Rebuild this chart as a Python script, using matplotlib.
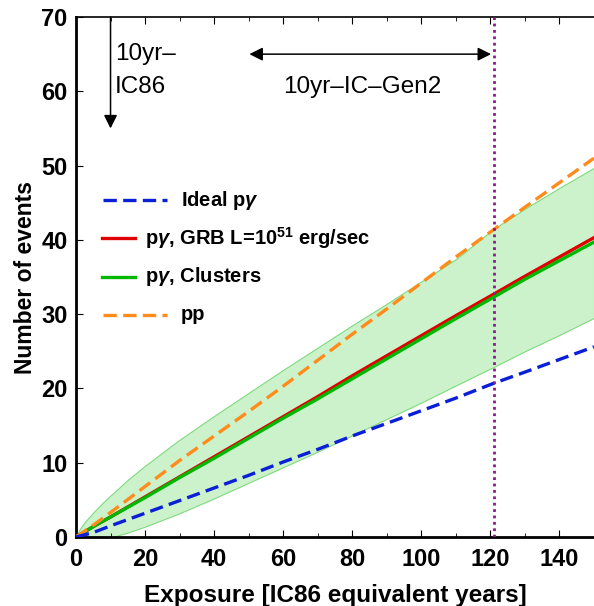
import matplotlib

matplotlib.use("Agg")
import matplotlib.pyplot as plt
from matplotlib.ticker import MultipleLocator


# values
exposure = [0, 5, 10, 20, 30, 40, 50, 60, 70, 80, 90, 100, 110, 121, 130, 140, 150]
grb_events = [0, 1.4, 2.7, 5.4, 8.1, 10.8, 13.5, 16.2, 18.9, 21.7, 24.4, 27.1, 29.8, 32.7, 35.1, 37.7, 40.3]
cluster_events = [0, 1.4, 2.7, 5.3, 8.0, 10.6, 13.3, 16.0, 18.6, 21.3, 24.0, 26.7, 29.4, 32.3, 34.7, 37.2, 39.7]
pp_events = [0, 1.6, 3.3, 6.8, 10.3, 13.6, 16.9, 20.3, 23.8, 27.3, 30.7, 34.2, 37.7, 41.4, 44.4, 47.7, 51.0]
ideal_events = [0, 0.6, 1.5, 3.2, 4.9, 6.6, 8.3, 10.1, 11.8, 13.6, 15.3, 17.0, 18.7, 20.7, 22.2, 23.9, 25.6]

band_x = [0, 1, 2.5, 5, 7.5, 10, 11, 15, 20, 30, 40, 50, 60, 70, 80, 90, 100, 110, 121, 130, 140, 150]
band_upper = [0, 1.0, 2.0, 3.3, 4.5, 5.6, 6.0, 7.7, 9.6, 13.1, 16.3, 19.4, 22.5, 25.5, 28.5, 31.4, 34.4, 37.4, 41.5, 44.2, 47.0, 49.7]
band_lower = [0, 0, 0, 0, 0, 0, 0.05, 0.6, 1.4, 3.2, 5.2, 7.3, 9.4, 11.5, 13.7, 15.9, 18.1, 20.4, 22.9, 25.0, 27.2, 29.5]

gen2_years = 121
ic86_years = 10

labels = [
    "Ideal p$\\gamma$",
    "p$\\gamma$, GRB L=10$^{\\mathbf{51}}$ erg/sec",
    "p$\\gamma$, Clusters",
    "pp",
]

BLUE = "#0A1FD6"
RED = "#E00000"
GREEN = "#00B800"
ORANGE = "#FF8C1A"
DASH = (0, (4, 1.9))

plt.rcParams["font.family"] = ["Liberation Sans", "DejaVu Sans"]
plt.rcParams["mathtext.fontset"] = "custom"
plt.rcParams["mathtext.rm"] = "Liberation Sans:bold"
plt.rcParams["mathtext.bf"] = "Liberation Sans:bold"
plt.rcParams["mathtext.it"] = "Liberation Sans:italic:bold"

fig = plt.figure(figsize=(5.94, 6.06), dpi=100)
ax = fig.add_axes([76 / 594, 69 / 606, 518 / 594, 520 / 606])

ax.fill_between(band_x, band_lower, band_upper, facecolor="#CCF2CC", edgecolor="#7FD97F", lw=0.8, zorder=1)
ax.plot(exposure, grb_events, color=RED, lw=2.4, zorder=3)
ax.plot(exposure, cluster_events, color=GREEN, lw=2.4, zorder=3.1)
ax.plot(exposure, pp_events, color=ORANGE, lw=2.4, ls=DASH, zorder=4)
ax.plot(exposure, ideal_events, color=BLUE, lw=2.4, ls=DASH, zorder=4)
ax.axvline(gen2_years, color="#8B1A8B", lw=2.0, ls=(0, (1, 1.3)), zorder=5)

# annotations
ax.annotate("", xy=(ic86_years, 55), xytext=(ic86_years, 70),
            arrowprops=dict(arrowstyle="-|>", color="black", lw=1.1, mutation_scale=20, shrinkA=0, shrinkB=0))
ax.text(11.3, 65, "10yr\u2013", fontsize=17.5, ha="left", va="center")
ax.text(11.3, 60.6, "IC86", fontsize=17.5, ha="left", va="center")
ax.annotate("", xy=(50.2, 65), xytext=(120.2, 65),
            arrowprops=dict(arrowstyle="<|-|>", color="black", lw=1.1, mutation_scale=20, shrinkA=0, shrinkB=0))
ax.text(83, 60.6, "10yr\u2013IC\u2013Gen2", fontsize=17.5, ha="center", va="center")

# legend drawn by hand: dashed samples are longer than the solid ones
legend_rows = [
    (labels[0], BLUE, DASH, 0.648),
    (labels[1], RED, "-", 0.575),
    (labels[2], GREEN, "-", 0.500),
    (labels[3], ORANGE, DASH, 0.427),
]
for text, color, style, y in legend_rows:
    if style == "-":
        x0, x1, xt = 0.050, 0.114, 0.134
    else:
        x0, x1, xt = 0.052, 0.176, 0.203
    ax.plot([x0, x1], [y, y], color=color, lw=2.4, ls=style, transform=ax.transAxes, clip_on=False)
    ax.text(xt, y, text, transform=ax.transAxes, fontsize=14.5, fontweight="bold", ha="left", va="center")

ax.set_xlim(0, 150)
ax.set_ylim(0, 70)
ax.xaxis.set_major_locator(MultipleLocator(20))
ax.xaxis.set_minor_locator(MultipleLocator(10))
ax.yaxis.set_major_locator(MultipleLocator(10))
ax.tick_params(which="both", direction="in", top=True, right=False)
ax.tick_params(which="major", length=5, width=0.8, labelsize=17)
ax.tick_params(axis="x", which="major", pad=8)
ax.tick_params(axis="y", which="major", pad=6)
ax.tick_params(which="minor", length=3, width=0.6)
for lab in ax.get_xticklabels() + ax.get_yticklabels():
    lab.set_fontweight("bold")

ax.spines["right"].set_visible(False)
ax.spines["left"].set_linewidth(2.0)
ax.spines["bottom"].set_linewidth(2.0)
ax.spines["top"].set_linewidth(1.2)

ax.set_xlabel("Exposure [IC86 equivalent years]", fontsize=17.5, fontweight="bold", labelpad=9)
ax.set_ylabel("Number of events", fontsize=16.5, fontweight="bold", labelpad=3)

fig.savefig("out.png", dpi=100)
